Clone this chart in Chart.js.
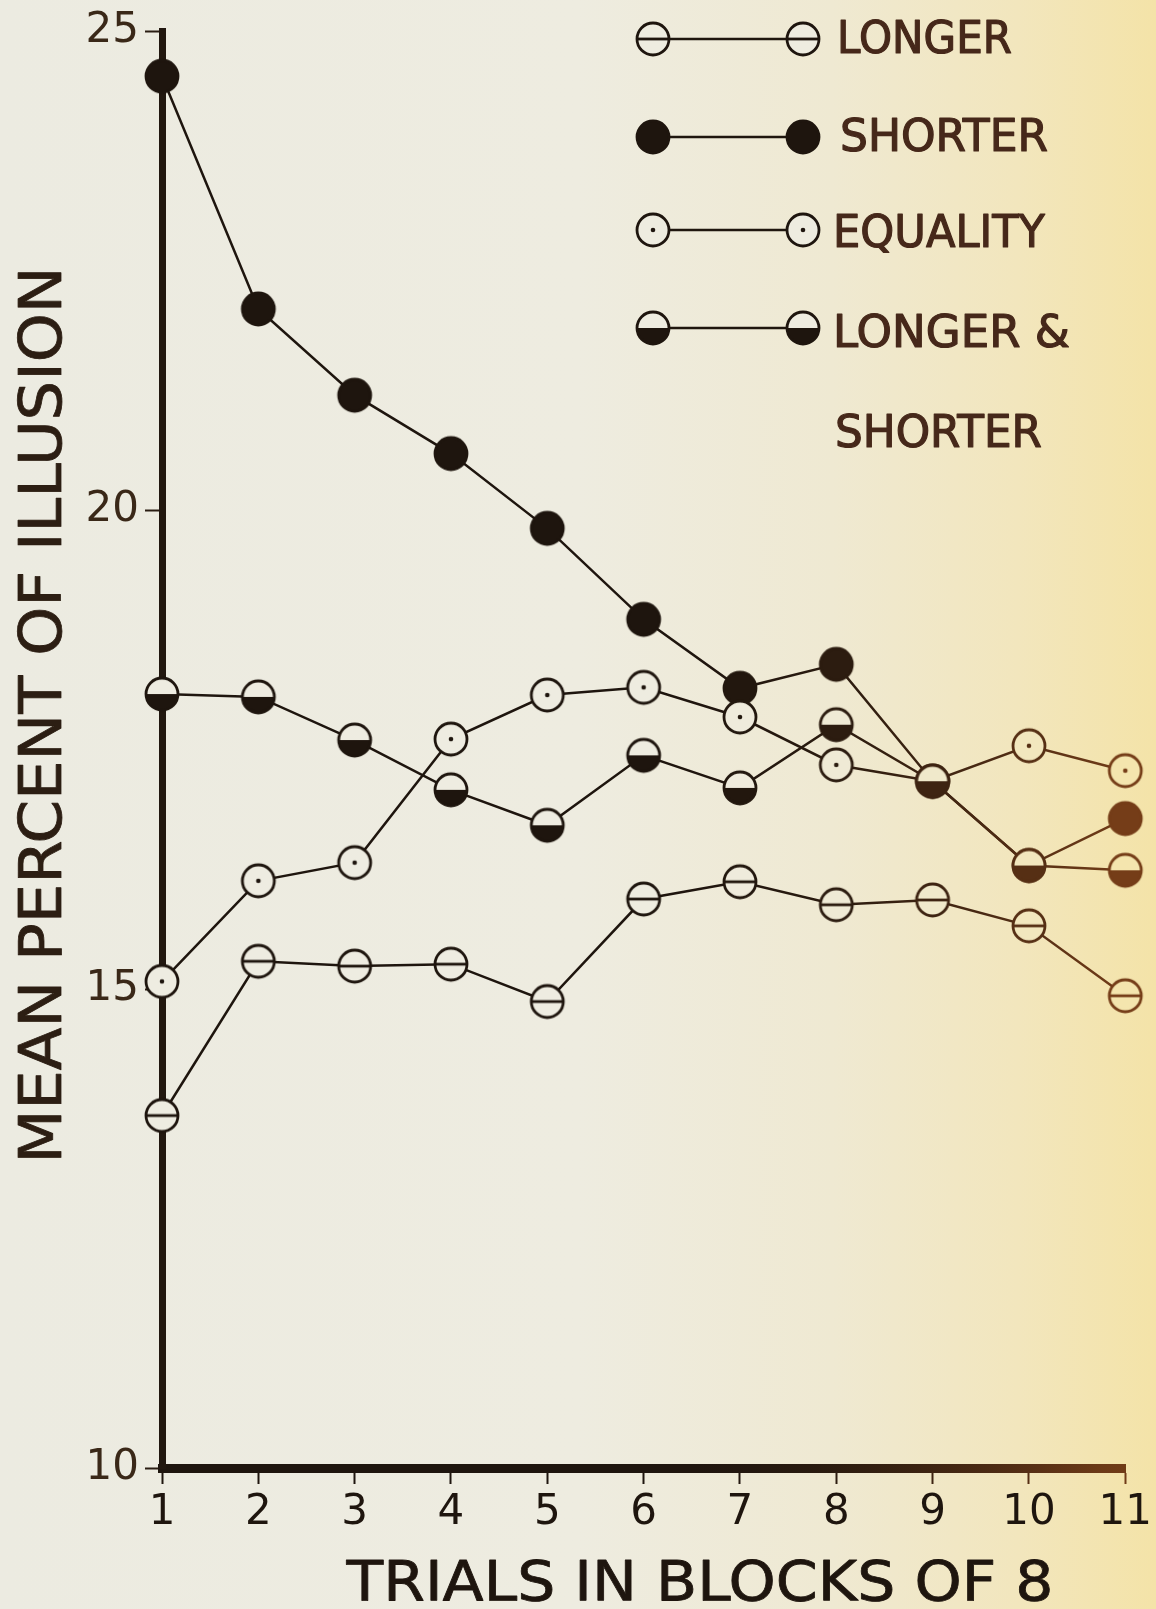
<!DOCTYPE html>
<html>
<head>
<meta charset="utf-8">
<script src="https://cdn.jsdelivr.net/npm/chart.js@4.4.1/dist/chart.umd.min.js"></script>
<style>
  html, body { margin: 0; padding: 0; }
  body {
    width: 1156px;
    height: 1609px;
    overflow: hidden;
    background: linear-gradient(90deg, #ecebe1 0%, #eeece0 50%, #efe9d2 72%, #f2e6bd 88%, #f4e3a8 100%);
  }
  canvas { display: block; }
</style>
</head>
<body>
<canvas id="chart" width="1156" height="1609"></canvas>
<script>
const blocks = ["1", "2", "3", "4", "5", "6", "7", "8", "9", "10", "11"];
const longer = [13.68, 15.29, 15.24, 15.26, 14.87, 15.94, 16.12, 15.88, 15.93, 15.66, 14.93];
const shorter = [24.53, 22.10, 21.20, 20.59, 19.81, 18.86, 18.14, 18.39, 17.17, 16.29, 16.78];
const equality = [15.08, 16.13, 16.32, 17.61, 18.07, 18.15, 17.84, 17.34, 17.17, 17.54, 17.28];
const longerShorter = [18.08, 18.05, 17.60, 17.08, 16.71, 17.44, 17.10, 17.76, 17.17, 16.29, 16.24];
const yMin = 10;
const yMax = 25;
const yStep = 5;

const legendRows = [
  { kind: "longer", text: "LONGER" },
  { kind: "shorter", text: "SHORTER" },
  { kind: "equality", text: "EQUALITY" },
  { kind: "half", text: "LONGER &" },
];
const legendExtra = "SHORTER";

const FONT = "'DejaVu Sans', 'Liberation Sans', sans-serif";
const R = 16;

// scan colours: dark ink on the left, browner towards the right edge
function mix(a, b, k) {
  return a.map((v, i) => Math.round(v + (b[i] - v) * k));
}
function inkAt(x) {
  const t = Math.min(1, Math.max(0, (x - 640) / 490));
  const c = mix([30, 21, 14], [118, 62, 24], t * t);
  return `rgb(${c.join(",")})`;
}
function paperAt(x) {
  const t = Math.min(1, Math.max(0, (x - 560) / 590));
  const c = mix([238, 236, 225], [244, 228, 170], t * t);
  return `rgb(${c.join(",")})`;
}

function makeMarker(kind, x) {
  const size = 2 * R + 6;
  const c = document.createElement("canvas");
  c.width = size;
  c.height = size;
  const g = c.getContext("2d");
  const m = size / 2;
  const ink = inkAt(x);
  g.fillStyle = paperAt(x);
  g.beginPath();
  g.arc(m, m, R, 0, Math.PI * 2);
  g.fill();
  g.fillStyle = ink;
  g.strokeStyle = ink;
  g.lineWidth = 2.8;
  if (kind === "shorter") {
    g.beginPath();
    g.arc(m, m, R, 0, Math.PI * 2);
    g.fill();
  } else if (kind === "half") {
    g.beginPath();
    g.arc(m, m, R, 0, Math.PI);
    g.closePath();
    g.fill();
  } else if (kind === "longer") {
    g.beginPath();
    g.moveTo(m - R, m);
    g.lineTo(m + R, m);
    g.stroke();
  } else if (kind === "equality") {
    g.beginPath();
    g.arc(m, m, 2.3, 0, Math.PI * 2);
    g.fill();
  }
  g.beginPath();
  g.arc(m, m, R, 0, Math.PI * 2);
  g.stroke();
  return c;
}

const LEFT = 162;
const RIGHT = 1126;
const TOP = 27;
const BOTTOM = 1468;
const approxX = (i) => LEFT + (i * (RIGHT - LEFT)) / (blocks.length - 1);

const markers = {};
for (const kind of ["longer", "shorter", "equality", "half"]) {
  markers[kind] = blocks.map((_, i) => makeMarker(kind, approxX(i)));
}

const canvas = document.getElementById("chart");
const ctx2d = canvas.getContext("2d");
const inkGradient = ctx2d.createLinearGradient(0, 0, 1156, 0);
for (let s = 0; s <= 20; s++) {
  inkGradient.addColorStop(s / 20, inkAt((s / 20) * 1156));
}

// lettering in the scan is a bit heavier than DejaVu Book, so add a thin outline
function fitText(ctx, text, x, y, width, align, weight) {
  const w = ctx.measureText(text).width;
  ctx.save();
  ctx.translate(x, y);
  ctx.scale(width / w, 1);
  ctx.textAlign = align;
  ctx.fillText(text, 0, 0);
  if (weight) {
    ctx.lineWidth = weight;
    ctx.strokeStyle = ctx.fillStyle;
    ctx.lineJoin = "round";
    ctx.strokeText(text, 0, 0);
  }
  ctx.restore();
}

const decorPlugin = {
  id: "decor",
  afterDraw(chart) {
    const ctx = chart.ctx;
    ctx.save();
    ctx.textBaseline = "alphabetic";

    // y axis title, rotated
    ctx.fillStyle = "#2c1e13";
    ctx.font = `58px ${FONT}`;
    ctx.save();
    ctx.translate(61, 715);
    ctx.rotate(-Math.PI / 2);
    fitText(ctx, "MEAN PERCENT OF ILLUSION", 0, 0, 897, "center", 0.8);
    ctx.restore();

    // x axis title
    ctx.fillStyle = inkGradient;
    ctx.font = `55px ${FONT}`;
    fitText(ctx, "TRIALS IN BLOCKS OF 8", 700, 1600, 707, "center", 0.8);

    // legend
    const rowY = [39, 137, 230, 328];
    const textX = [837, 840, 833, 833];
    const textBase = [53, 151, 247, 347];
    const textW = [175, 208, 212, 237];
    legendRows.forEach((row, i) => {
      const y = rowY[i];
      ctx.strokeStyle = inkAt(700);
      ctx.lineWidth = 2.4;
      ctx.beginPath();
      ctx.moveTo(653, y);
      ctx.lineTo(803, y);
      ctx.stroke();
      const img = makeMarker(row.kind, 653);
      ctx.drawImage(img, 653 - img.width / 2, y - img.height / 2);
      ctx.drawImage(img, 803 - img.width / 2, y - img.height / 2);
      ctx.fillStyle = "#46281a";
      ctx.font = `44px ${FONT}`;
      fitText(ctx, row.text, textX[i], textBase[i], textW[i], "left", 1.2);
    });
    fitText(ctx, legendExtra, 835, 447, 207, "left", 1.2);
    ctx.restore();
  },
};

function series(label, data, kind) {
  return {
    label,
    data,
    borderColor: inkGradient,
    borderWidth: 2.5,
    tension: 0,
    fill: false,
    clip: false,
    pointStyle: (c) => markers[kind][c.dataIndex],
    pointRadius: R,
    pointHoverRadius: R,
  };
}

new Chart(canvas, {
  type: "line",
  data: {
    labels: blocks,
    datasets: [
      series("LONGER", longer, "longer"),
      series("LONGER & SHORTER", longerShorter, "half"),
      series("EQUALITY", equality, "equality"),
      series("SHORTER", shorter, "shorter"),
    ],
  },
  options: {
    responsive: false,
    animation: false,
    events: [],
    layout: { padding: { left: 0, top: TOP, right: 1156 - RIGHT, bottom: 0 } },
    plugins: {
      legend: { display: false },
      tooltip: { enabled: false },
      title: { display: false },
    },
    scales: {
      x: {
        type: "category",
        offset: false,
        grid: {
          drawOnChartArea: false,
          drawTicks: true,
          tickLength: 16,
          tickWidth: 2,
          tickColor: inkGradient,
        },
        border: { display: true, width: 9, color: inkGradient },
        ticks: {
          color: inkGradient,
          font: { family: FONT, size: 42 },
          padding: 4,
          maxRotation: 0,
          autoSkip: false,
        },
        afterFit(scale) {
          scale.height = 1609 - BOTTOM;
        },
      },
      y: {
        min: yMin,
        max: yMax,
        grid: {
          drawOnChartArea: false,
          drawTicks: true,
          tickLength: 17,
          tickWidth: 2,
          tickColor: "#2a1d12",
        },
        border: { display: true, width: 7, color: "#21170f" },
        ticks: {
          stepSize: yStep,
          color: "#3a2818",
          font: { family: FONT, size: 42 },
          padding: 6,
        },
        afterFit(scale) {
          scale.width = LEFT;
        },
      },
    },
  },
  plugins: [decorPlugin],
});
</script>
</body>
</html>
